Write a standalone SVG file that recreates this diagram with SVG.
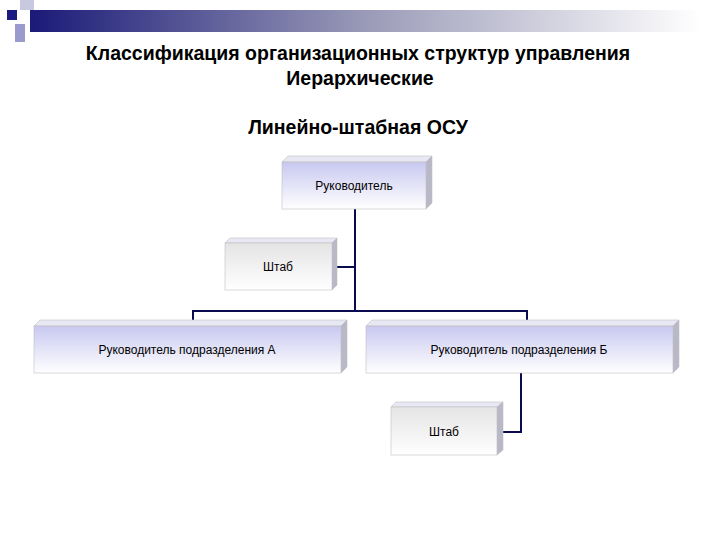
<svg xmlns="http://www.w3.org/2000/svg" width="720" height="540" viewBox="0 0 720 540">
<defs>
<linearGradient id="bar" x1="0" x2="1" y1="0" y2="0"><stop offset="0" stop-color="#1a1a78"/><stop offset="0.5" stop-color="#9a9ab8"/><stop offset="1" stop-color="#ffffff"/></linearGradient>
<linearGradient id="fb" x1="0" x2="0" y1="0" y2="1"><stop offset="0" stop-color="#c8c8f0"/><stop offset="1" stop-color="#ffffff"/></linearGradient>
<linearGradient id="fg" x1="0" x2="0" y1="0" y2="1"><stop offset="0" stop-color="#e4e4e4"/><stop offset="1" stop-color="#ffffff"/></linearGradient>
<style>
.t{font-family:"Liberation Sans",Arial,sans-serif;font-size:12px;fill:#000;text-anchor:middle}
.h{font-family:"Liberation Sans",Arial,sans-serif;font-size:19.5px;font-weight:bold;fill:#000;text-anchor:middle}
.top{fill:#e8e8f4;stroke:#c0c0c0;stroke-width:0.6}
.side{fill:#b8b8c8;stroke:#c0c0c0;stroke-width:0.6}
.fr{stroke:#c0c0c0;stroke-width:0.6}
.c{fill:none;stroke:#0a0a50;stroke-width:2}
</style>
</defs>
<g id="header">
<rect x="20" y="0" width="14" height="10" fill="#c8c8e0"/>
<rect x="4" y="10" width="14" height="14" fill="#ffffff"/>
<rect x="7" y="10" width="10" height="10" fill="#1a1a80"/>
<rect x="15" y="24" width="10" height="18" fill="#9a9acc"/>
<rect x="30" y="10" width="670" height="22" fill="url(#bar)"/>
<text class="h" x="358" y="60">Классификация организационных структур управления</text>
<text class="h" x="360" y="85">Иерархические</text>
<text class="h" x="358" y="134">Линейно-штабная ОСУ</text>
</g>
<g id="connectors">
<path class="c" d="M355 209V311M193 320V311H527V320M332 267H355M521 373V432H497"/>
</g>
<g id="n1">
<polygon class="top" points="282,162 288,156 432,156 426,162"/><polygon class="side" points="426,162 432,156 432,203 426,209"/>
<rect class="fr" x="282" y="162" width="144" height="47" fill="url(#fb)"/>
<text class="t" x="354" y="190">Руководитель</text></g>
<g id="n2">
<polygon class="top" points="225,243 230,238 337,238 332,243"/><polygon class="side" points="332,243 337,238 337,285 332,290"/>
<rect class="fr" x="225" y="243" width="107" height="47" fill="url(#fg)"/>
<text class="t" x="278" y="271">Штаб</text></g>
<g id="n3">
<polygon class="top" points="34,326 40,320 347,320 341,326"/><polygon class="side" points="341,326 347,320 347,367 341,373"/>
<rect class="fr" x="34" y="326" width="307" height="47" fill="url(#fb)"/>
<text class="t" x="187" y="354">Руководитель подразделения А</text></g>
<g id="n4">
<polygon class="top" points="366,326 372,320 679,320 673,326"/><polygon class="side" points="673,326 679,320 679,367 673,373"/>
<rect class="fr" x="366" y="326" width="307" height="47" fill="url(#fb)"/>
<text class="t" x="519" y="354">Руководитель подразделения Б</text></g>
<g id="n5">
<polygon class="top" points="391,407 396,402 503,402 497,407"/><polygon class="side" points="497,407 503,402 503,450 497,455"/>
<rect class="fr" x="391" y="407" width="106" height="48" fill="url(#fg)"/>
<text class="t" x="444" y="436">Штаб</text></g>
</svg>
